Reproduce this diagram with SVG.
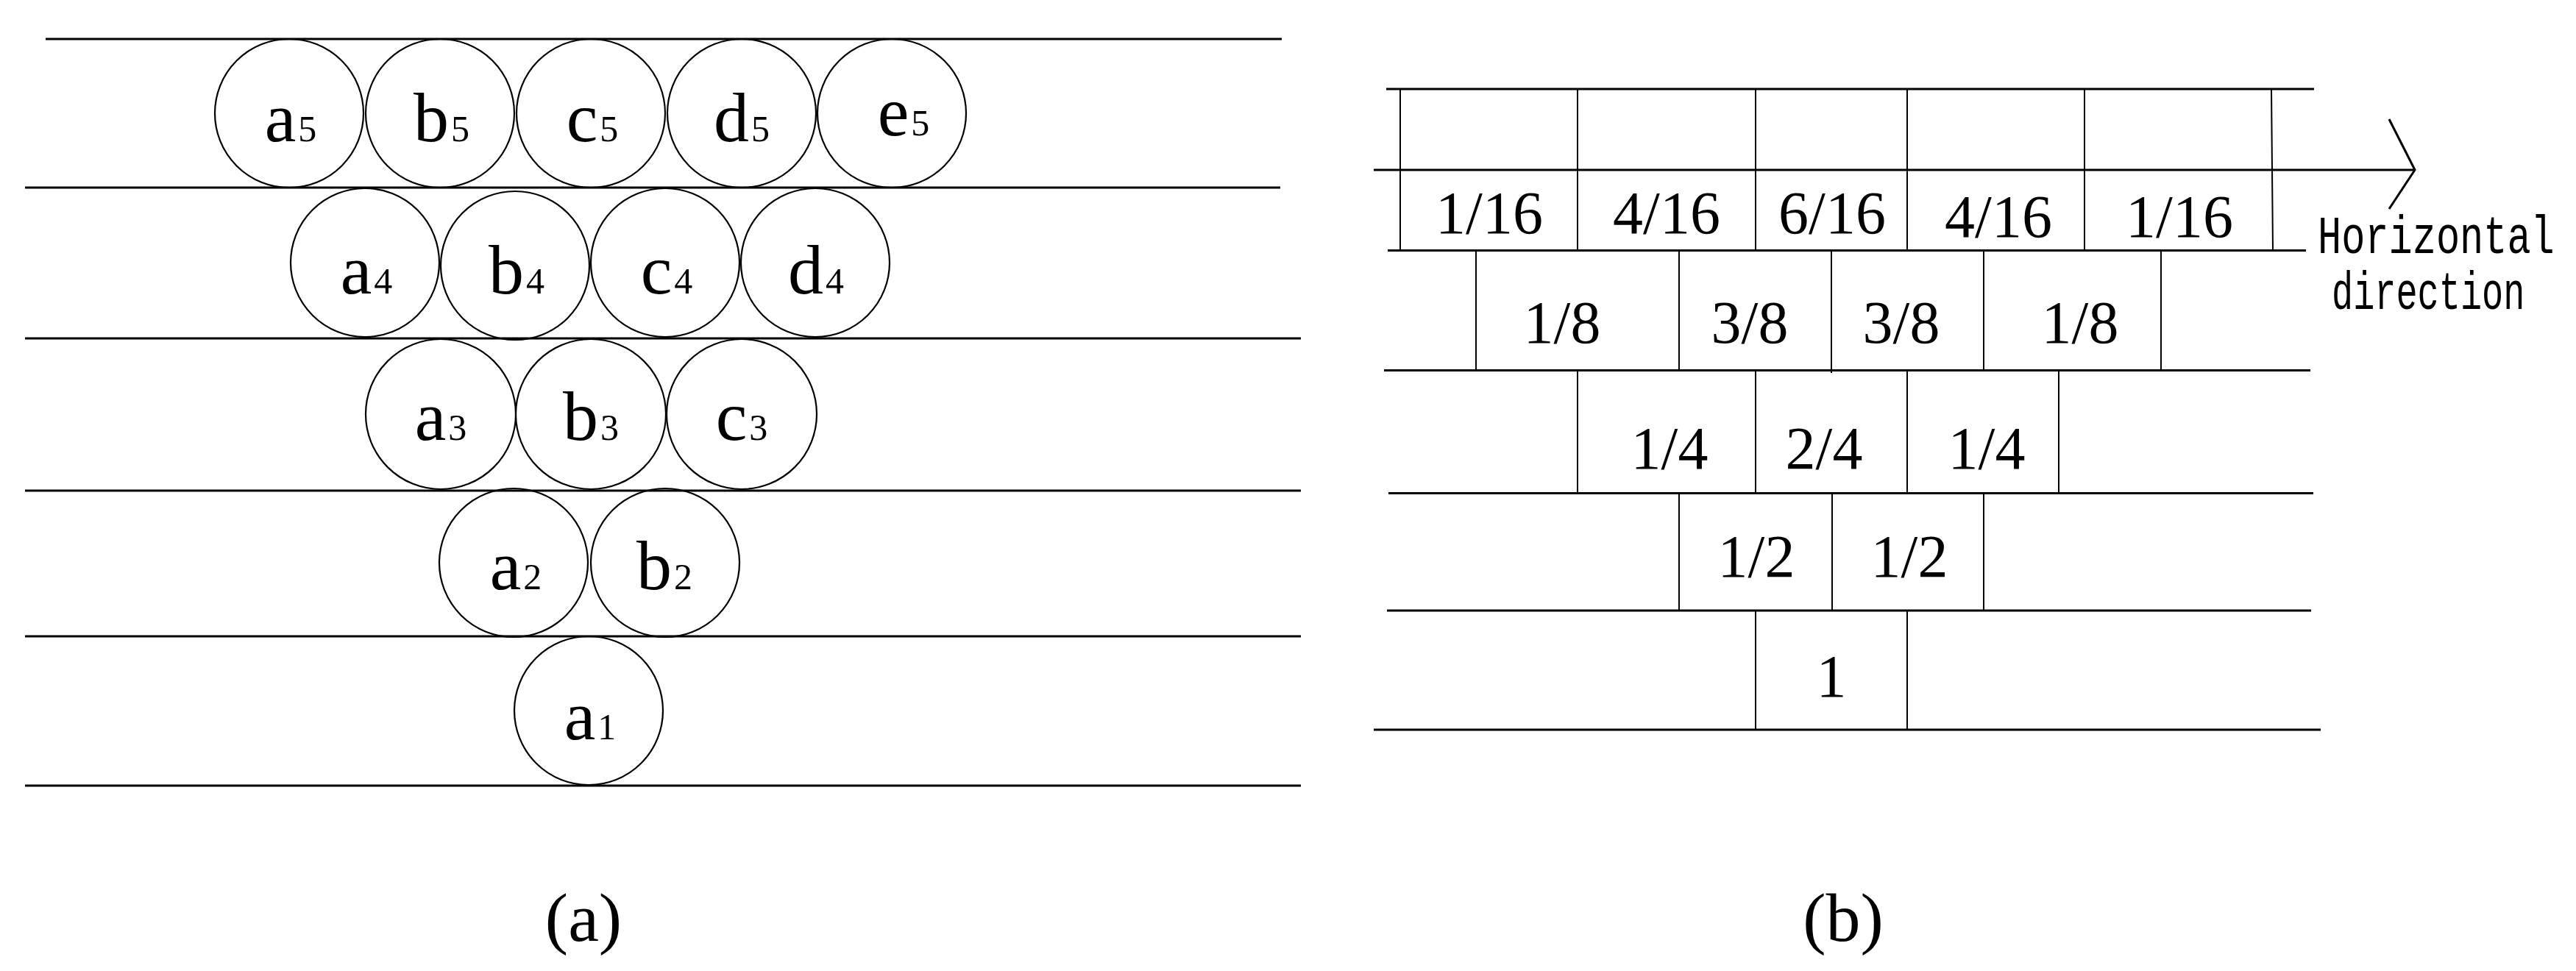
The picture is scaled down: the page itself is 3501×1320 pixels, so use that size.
<svg xmlns="http://www.w3.org/2000/svg" width="3501" height="1320" viewBox="0 0 3501 1320">
<style>
.bg{fill:#ffffff}
.hl{stroke:#000;stroke-width:3;fill:none}
.vl{stroke:#000;stroke-width:2;fill:none}
.ci{stroke:#000;stroke-width:2.2;fill:none}
.lb{font-family:"Liberation Serif","Times New Roman",serif;font-size:96px;fill:#000;text-anchor:middle}
.sb{font-size:50px}
.fr{font-family:"Liberation Serif","Times New Roman",serif;font-size:82px;fill:#000;text-anchor:middle}
.cap{font-family:"Liberation Serif","Times New Roman",serif;font-size:94px;fill:#000;text-anchor:middle}
.hd{font-family:"Liberation Mono","Courier New",monospace;font-size:72px;fill:#000}
</style>
<rect class="bg" x="0" y="0" width="3501" height="1320"/>

<!-- (a) layer lines -->
<g id="a-lines">
<line class="hl" x1="62" y1="53" x2="1742" y2="53"/>
<line class="hl" x1="34" y1="255" x2="1740" y2="255"/>
<line class="hl" x1="34" y1="460" x2="1768" y2="460"/>
<line class="hl" x1="34" y1="667" x2="1768" y2="667"/>
<line class="hl" x1="34" y1="865" x2="1768" y2="865"/>
<line class="hl" x1="34" y1="1068" x2="1768" y2="1068"/>
</g>

<!-- (a) nodes -->
<g id="node-a5"><circle class="ci" cx="393" cy="154" r="101"/><text class="lb" x="395" y="192">a<tspan class="sb" dx="3">5</tspan></text></g>
<g id="node-b5"><circle class="ci" cx="598" cy="154" r="101"/><text class="lb" x="600" y="192">b<tspan class="sb" dx="3">5</tspan></text></g>
<g id="node-c5"><circle class="ci" cx="803" cy="154" r="101"/><text class="lb" x="805" y="192">c<tspan class="sb" dx="3">5</tspan></text></g>
<g id="node-d5"><circle class="ci" cx="1008" cy="154" r="101"/><text class="lb" x="1008" y="192">d<tspan class="sb" dx="3">5</tspan></text></g>
<g id="node-e5"><circle class="ci" cx="1212" cy="154" r="101"/><text class="lb" x="1228" y="184">e<tspan class="sb" dx="3">5</tspan></text></g>

<g id="node-a4"><circle class="ci" cx="496" cy="357" r="101"/><text class="lb" x="498" y="399">a<tspan class="sb" dx="3">4</tspan></text></g>
<g id="node-b4"><circle class="ci" cx="700" cy="361" r="101"/><text class="lb" x="702" y="399">b<tspan class="sb" dx="3">4</tspan></text></g>
<g id="node-c4"><circle class="ci" cx="904" cy="357" r="101"/><text class="lb" x="906" y="399">c<tspan class="sb" dx="3">4</tspan></text></g>
<g id="node-d4"><circle class="ci" cx="1108" cy="357" r="101"/><text class="lb" x="1109" y="399">d<tspan class="sb" dx="3">4</tspan></text></g>

<g id="node-a3"><circle class="ci" cx="599" cy="563" r="102"/><text class="lb" x="599" y="598">a<tspan class="sb" dx="3">3</tspan></text></g>
<g id="node-b3"><circle class="ci" cx="803" cy="563" r="102"/><text class="lb" x="803" y="598">b<tspan class="sb" dx="3">3</tspan></text></g>
<g id="node-c3"><circle class="ci" cx="1008" cy="563" r="102"/><text class="lb" x="1008" y="598">c<tspan class="sb" dx="3">3</tspan></text></g>

<g id="node-a2"><circle class="ci" cx="698" cy="765" r="101"/><text class="lb" x="701" y="801">a<tspan class="sb" dx="3">2</tspan></text></g>
<g id="node-b2"><circle class="ci" cx="904" cy="765" r="101"/><text class="lb" x="903" y="801">b<tspan class="sb" dx="3">2</tspan></text></g>

<g id="node-a1"><circle class="ci" cx="800" cy="966" r="101"/><text class="lb" x="802" y="1005">a<tspan class="sb" dx="3">1</tspan></text></g>

<text id="cap-a" class="cap" x="793" y="1279">(a)</text>

<!-- (b) grid -->
<g id="b-lines">
<line class="hl" x1="1884" y1="121" x2="3145" y2="121"/>
<line class="hl" x1="1867" y1="231" x2="3282" y2="231"/>
<line class="hl" x1="1886" y1="340.5" x2="3134" y2="340.5"/>
<line class="hl" x1="1881" y1="503.5" x2="3140" y2="503.5"/>
<line class="hl" x1="1887" y1="670.5" x2="3144" y2="670.5"/>
<line class="hl" x1="1885" y1="830" x2="3141" y2="830"/>
<line class="hl" x1="1867" y1="992" x2="3154" y2="992"/>
<polyline class="hl" points="3247,162 3282,231 3247,284"/>
<!-- verticals rows 1-2 -->
<line class="vl" x1="1903" y1="121" x2="1903" y2="340.5"/>
<line class="vl" x1="2144" y1="121" x2="2144" y2="340.5"/>
<line class="vl" x1="2386" y1="121" x2="2386" y2="340.5"/>
<line class="vl" x1="2592" y1="121" x2="2592" y2="340.5"/>
<line class="vl" x1="2833" y1="121" x2="2833" y2="340.5"/>
<line class="vl" x1="3087" y1="121" x2="3089" y2="340.5"/>
<!-- row 3 -->
<line class="vl" x1="2006" y1="340.5" x2="2006" y2="503.5"/>
<line class="vl" x1="2282" y1="340.5" x2="2282" y2="503.5"/>
<line class="vl" x1="2489" y1="340.5" x2="2489" y2="507"/>
<line class="vl" x1="2696" y1="340.5" x2="2696" y2="503.5"/>
<line class="vl" x1="2937" y1="340.5" x2="2937" y2="503.5"/>
<!-- row 4 -->
<line class="vl" x1="2144" y1="503.5" x2="2144" y2="670.5"/>
<line class="vl" x1="2386" y1="503.5" x2="2386" y2="670.5"/>
<line class="vl" x1="2592" y1="503.5" x2="2592" y2="670.5"/>
<line class="vl" x1="2798" y1="503.5" x2="2798" y2="670.5"/>
<!-- row 5 -->
<line class="vl" x1="2282" y1="670.5" x2="2282" y2="830"/>
<line class="vl" x1="2490" y1="670.5" x2="2490" y2="830"/>
<line class="vl" x1="2696" y1="670.5" x2="2696" y2="830"/>
<!-- row 6 -->
<line class="vl" x1="2386" y1="830" x2="2386" y2="992"/>
<line class="vl" x1="2592" y1="830" x2="2592" y2="992"/>
</g>

<g id="b-labels">
<text class="fr" x="2024" y="317">1/16</text>
<text class="fr" x="2265" y="317">4/16</text>
<text class="fr" x="2490" y="317">6/16</text>
<text class="fr" x="2716" y="322">4/16</text>
<text class="fr" x="2962" y="322">1/16</text>

<text class="fr" x="2123" y="466">1/8</text>
<text class="fr" x="2378" y="466">3/8</text>
<text class="fr" x="2584" y="466">3/8</text>
<text class="fr" x="2827" y="466">1/8</text>

<text class="fr" x="2269" y="637">1/4</text>
<text class="fr" x="2479" y="637">2/4</text>
<text class="fr" x="2700" y="637">1/4</text>

<text class="fr" x="2387" y="784">1/2</text>
<text class="fr" x="2595" y="784">1/2</text>

<text class="fr" x="2489" y="947">1</text>
</g>

<g id="direction-label">
<text class="hd" transform="translate(3150,344) scale(0.745,1)" x="0" y="0">Horizontal</text>
<text class="hd" transform="translate(3169,420) scale(0.675,1)" x="0" y="0">direction</text>
</g>

<text id="cap-b" class="cap" x="2505" y="1279">(b)</text>
</svg>
